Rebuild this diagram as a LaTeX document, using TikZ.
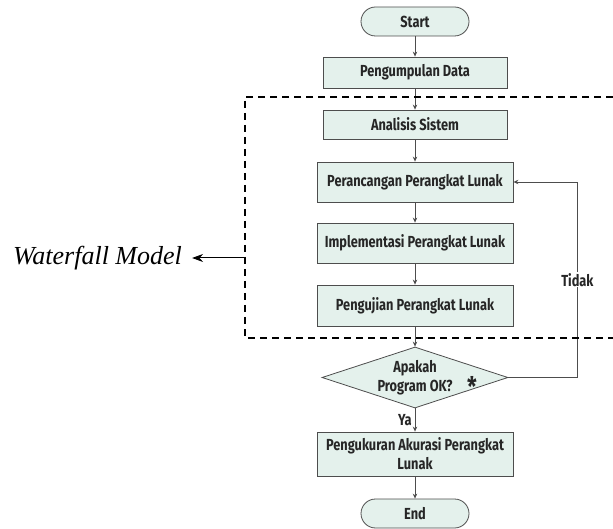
\documentclass[tikz,border=0pt]{standalone}
\usepackage{fontspec}
\setmainfont{Liberation Serif}
\newfontfamily\flowfont{Fira Sans}[FakeStretch=0.8]
\usetikzlibrary{arrows.meta,shapes.geometric}
\definecolor{boxfill}{HTML}{E4F1EC}
\definecolor{boxline}{HTML}{4D4D4D}
\tikzset{
  flowtext/.style={font=\flowfont\bfseries\fontsize{16}{19}\selectfont,text=black!85},
  procbox/.style={flowtext,draw=boxline,fill=boxfill,line width=0.8pt,inner sep=0pt,align=center},
  termbox/.style={procbox,minimum width=108pt,minimum height=29pt,rounded corners=14.5pt},
  decbox/.style={procbox,shape=diamond,aspect=3,minimum width=186pt,minimum height=61pt},
  flow/.style={draw=boxline,line width=0.8pt,-{Stealth[length=5pt,width=4.5pt]}},
}
\begin{document}
\begin{tikzpicture}[x=1pt,y=-1pt]
\useasboundingbox (0,0) rectangle (613,529);
% flowchart
\node[termbox] (start) at (415,21.5) {Start};
\node[procbox,minimum width=184pt,minimum height=31pt] (data) at (415,72.5) {Pengumpulan Data};
\node[procbox,minimum width=184pt,minimum height=29pt] (analisis) at (415,124.5) {Analisis Sistem};
\node[procbox,minimum width=196pt,minimum height=40pt] (rancang) at (415,182) {Perancangan Perangkat Lunak};
\node[procbox,minimum width=196pt,minimum height=40pt] (impl) at (415,243) {Implementasi Perangkat Lunak};
\node[procbox,minimum width=196pt,minimum height=41pt] (uji) at (415,305.5) {Pengujian Perangkat Lunak};
\node[decbox] (cek) at (415,377.5) {Apakah\\Program OK?};
\node[flowtext,font=\flowfont\bfseries\fontsize{27}{27}\selectfont] (bintang) at (472,386) {*};
\node[procbox,minimum width=196pt,minimum height=44pt] (ukur) at (415,454) {Pengukuran Akurasi Perangkat\\Lunak};
\node[termbox] (end) at (415,513.5) {End};
\draw[flow] (start) -- (data);
\draw[flow] (data) -- (analisis);
\draw[flow] (analisis) -- (rancang);
\draw[flow] (rancang) -- (impl);
\draw[flow] (impl) -- (uji);
\draw[flow] (uji) -- (cek);
\draw[flow] (cek) -- node[flowtext,left,inner sep=3pt]{Ya} (ukur);
\draw[flow] (ukur) -- (end);
\draw[flow] (cek.east) -- ++(69,0) |- node[flowtext,pos=0.25,fill=white,inner sep=1pt]{Tidak} (rancang.east);
% waterfall frame
\draw[line width=1.6pt,dash pattern=on 7pt off 5pt] (613,97) -- (245,97) -- (245,338) -- (613,338);
\coordinate (frame) at (245,258);
\node[anchor=base,inner sep=0pt,font=\itshape\fontsize{26}{26}\selectfont] (wf) at (97.5,265) {Waterfall Model};
\draw[line width=1pt,-{Stealth[length=11pt,width=8pt]},shorten >=10pt] (frame) -- (wf.east |- frame);
\end{tikzpicture}
\end{document}
